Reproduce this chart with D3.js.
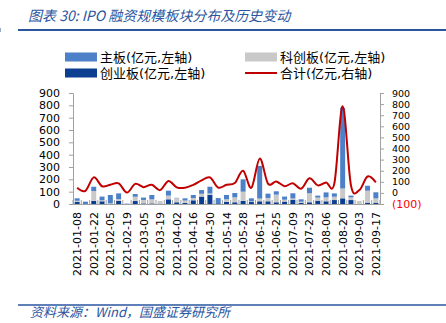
<!DOCTYPE html>
<html><head><meta charset="utf-8">
<script src="https://cdn.jsdelivr.net/npm/d3@7/dist/d3.min.js"></script>
<style>body{margin:0;background:#fff;} svg{display:block;}</style>
</head><body><svg id="c" width="446" height="323"></svg>
<script>
// ---- data (亿元) ----
const dates = ["2021-01-08","2021-01-15","2021-01-22","2021-01-29","2021-02-05","2021-02-12","2021-02-19","2021-02-26",
"2021-03-05","2021-03-12","2021-03-19","2021-03-26","2021-04-02","2021-04-09","2021-04-16","2021-04-23","2021-04-30",
"2021-05-07","2021-05-14","2021-05-21","2021-05-28","2021-06-04","2021-06-11","2021-06-18","2021-06-25","2021-07-02",
"2021-07-09","2021-07-16","2021-07-23","2021-07-30","2021-08-06","2021-08-13","2021-08-20","2021-08-27","2021-09-03",
"2021-09-10","2021-09-17"];
const mainBoard = [20,19,35,30,68,47,3,22,19,35,0,40,2,18,25,30,55,42,35,35,100,25,265,35,27,25,42,20,45,16,40,27,654,14,0,40,49];
const starBoard = [8,0,80,8,5,13,0,35,28,33,22,30,34,20,18,23,10,0,20,40,75,5,22,27,62,15,10,8,73,25,32,27,80,22,24,97,35];
const gemBoard  = [18,0,25,22,0,26,0,24,5,5,3,38,14,8,30,60,75,6,18,14,25,16,22,22,14,20,35,10,14,27,22,32,46,32,0,11,11];
const totals = dates.map((d,i)=>mainBoard[i]+starBoard[i]+gemBoard[i]);
const leftTicks = [0,100,200,300,400,500,600,700,800,900];
const rightTicks = [-100,0,100,200,300,400,500,600,700,800,900];
const labelDates = dates.filter((d,i)=>i%2===0);
const seriesNames = ["主板(亿元,左轴)","科创板(亿元,左轴)","创业板(亿元,左轴)","合计(亿元,右轴)"];
const colors = {main:"#4C80C8", star:"#C9C9C9", gem:"#0B3D91", total:"#C00000"};

const svg = d3.select("#c");
const blue = "#2A55A0";
const cjk = "'Noto Sans CJK SC','DejaVu Sans',sans-serif";
const mixed = "'DejaVu Sans','Noto Sans CJK SC',sans-serif";
const num = "'DejaVu Sans',sans-serif";

// title
svg.append("text").attr("x",28).attr("y",21).attr("font-family",cjk).attr("font-style","italic")
  .attr("font-size",14).attr("fill",blue).text("图表 30:  IPO 融资规模板块分布及历史变动");
svg.append("line").attr("x1",18).attr("x2",446).attr("y1",30).attr("y2",30).attr("stroke",blue).attr("stroke-width",2);
svg.append("rect").attr("x",0).attr("y",28).attr("width",1).attr("height",4).attr("fill","#9aa9c4");

// legend
const lg = [
  {x:65,y:57,type:"rect",c:colors.main,t:seriesNames[0]},
  {x:245,y:57,type:"rect",c:colors.star,t:seriesNames[1]},
  {x:65,y:73,type:"rect",c:colors.gem,t:seriesNames[2]},
  {x:245,y:73,type:"line",c:colors.total,t:seriesNames[3]}
];
lg.forEach(l=>{
  if(l.type==="rect") svg.append("rect").attr("x",l.x).attr("y",l.y-4.5).attr("width",32).attr("height",9).attr("fill",l.c);
  else svg.append("line").attr("x1",l.x).attr("x2",l.x+32).attr("y1",l.y).attr("y2",l.y).attr("stroke",l.c).attr("stroke-width",2);
  svg.append("text").attr("x",l.x+35).attr("y",l.y).attr("dy","0.36em").attr("font-family",mixed).attr("font-size",13).attr("fill","#000").text(l.t);
});

// scales
const x = d3.scaleBand().domain(dates).range([73,380]).paddingInner(0.4).paddingOuter(0.2);
const yL = d3.scaleLinear().domain([0,900]).range([204,93]);
const yR = d3.scaleLinear().domain([-100,900]).range([204,93]);

// bars (stacked: gem bottom, star middle, main top)
const stack = d3.stack().keys(["gem","star","main"])(dates.map((d,i)=>({date:d,gem:gemBoard[i],star:starBoard[i],main:mainBoard[i]})));
stack.forEach(layer=>{
  svg.append("g").selectAll("rect").data(layer).join("rect")
    .attr("x",d=>x(d.data.date)).attr("width",x.bandwidth())
    .attr("y",d=>yL(d[1])).attr("height",d=>yL(d[0])-yL(d[1]))
    .attr("fill",colors[layer.key]);
});

// axes
const axisColor = "#A0A0A0";
const gL = svg.append("g").attr("transform","translate(73,0)")
  .call(d3.axisLeft(yL).tickValues(leftTicks).tickSize(4).tickPadding(9).tickFormat(d3.format("d")));
const gR = svg.append("g").attr("transform","translate(380,0)")
  .call(d3.axisRight(yR).tickValues(rightTicks).tickSize(4).tickPadding(8).tickFormat(d=>d<0?"("+Math.abs(d)+")":d));
[gL,gR].forEach(g=>{
  g.select(".domain").attr("stroke",axisColor);
  g.selectAll(".tick line").attr("stroke",axisColor);
  g.selectAll("text").attr("font-family",num).attr("fill","#000");
});
gL.selectAll("text").attr("font-size",11);
gR.selectAll("text").attr("font-size",9.5);
gR.selectAll(".tick text").filter(d=>d<0).attr("fill","#FF0000").attr("font-size",11);

// x axis
svg.append("line").attr("x1",73).attr("x2",380).attr("y1",204.5).attr("y2",204.5).attr("stroke",axisColor);
const bounds = d3.range(dates.length+1).map(k=>73+k*x.step());
svg.append("g").selectAll("line").data(bounds).join("line")
  .attr("x1",d=>d).attr("x2",d=>d).attr("y1",200).attr("y2",204.5).attr("stroke",axisColor);
svg.append("g").selectAll("text").data(labelDates).join("text")
  .attr("transform",d=>`translate(${x(d)+x.bandwidth()/2+4},212) rotate(-90)`)
  .attr("text-anchor","end").attr("font-family",num).attr("font-size",11).attr("fill","#000").text(d=>d);

// total line (right axis), smoothed
const line = d3.line().x((d,i)=>x(dates[i])+x.bandwidth()/2).y(d=>yR(d)).curve(d3.curveCardinal.tension(0));
svg.append("path").datum(totals).attr("d",line).attr("fill","none").attr("stroke",colors.total).attr("stroke-width",2);

// footer
svg.append("line").attr("x1",18).attr("x2",446).attr("y1",305).attr("y2",305).attr("stroke",blue).attr("stroke-width",1.5);
svg.append("text").attr("x",30).attr("y",317).attr("font-family",cjk).attr("font-style","italic")
  .attr("font-size",13).attr("fill",blue).text("资料来源：Wind，国盛证券研究所");
</script></body></html>
